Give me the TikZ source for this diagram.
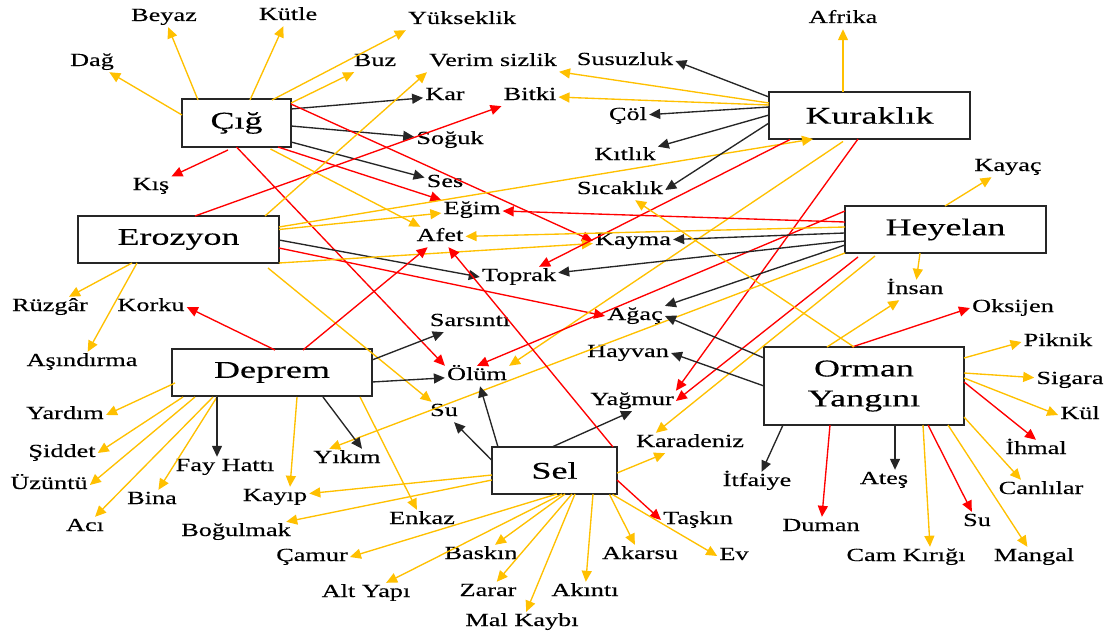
\documentclass[tikz,border=0pt]{standalone}
\usepackage{fontspec}
\setmainfont{Liberation Serif}[FakeStretch=1.42,FakeBold=0.3]
\newfontfamily\boxfont{Liberation Serif}[FakeStretch=1.5,FakeBold=0.3]
\usetikzlibrary{arrows.meta}
\definecolor{yel}{HTML}{FFC000}
\definecolor{rd}{HTML}{FF0000}
\definecolor{bk}{HTML}{262626}
\tikzset{
  box/.style={draw=bk, line width=1.5pt, fill=white, inner sep=0pt, align=center,
    font=\boxfont\fontsize{24}{30}\selectfont},
  lbl/.style={inner sep=2pt, text height=12pt, text depth=4pt, font=\fontsize{18.5}{20}\selectfont},
  conn/.style={line width=1.35pt, -{Triangle[length=11pt,width=10pt]}},
  ya/.style={conn, color=yel},
  ra/.style={conn, color=rd},
  ba/.style={conn, color=bk},
}
\begin{document}
\begin{tikzpicture}[x=1pt,y=-1pt]
\useasboundingbox (0,0) rectangle (1107,634);
% boxes
\node[box, minimum width=109pt, minimum height=48pt] (cig) at (236.5,123) {Çığ};
\node[box, minimum width=201pt, minimum height=47pt] (eroz) at (178.5,239.5) {Erozyon};
\node[box, minimum width=201pt, minimum height=47pt] (kur) at (869.5,115.5) {Kuraklık};
\node[box, minimum width=201pt, minimum height=47pt] (hey) at (945.5,229.5) {Heyelan};
\node[box, minimum width=200pt, minimum height=47pt] (dep) at (272,372.5) {Deprem};
\node[box, minimum width=200pt, minimum height=78pt] (orm) at (864,386) {Orman\\Yangını};
\node[box, minimum width=125pt, minimum height=47pt] (sel) at (554.5,470.5) {Sel};
% labels
\node[lbl] (beyaz) at (164,17) {Beyaz};
\node[lbl] (kutle) at (288,16) {Kütle};
\node[lbl] (yuksek) at (462,20) {Yükseklik};
\node[lbl] (dag) at (92,62) {Dağ};
\node[lbl] (buz) at (375,62) {Buz};
\node[lbl] (verim) at (493,62) {Verim sizlik};
\node[lbl] (susuz) at (625,61) {Susuzluk};
\node[lbl] (afrika) at (843,19) {Afrika};
\node[lbl] (kar) at (445,96) {Kar};
\node[lbl] (bitki) at (530,96) {Bitki};
\node[lbl] (col) at (628,116) {Çöl};
\node[lbl] (soguk) at (450,140) {Soğuk};
\node[lbl] (kitlik) at (625,156) {Kıtlık};
\node[lbl] (kis) at (151,186) {Kış};
\node[lbl] (ses) at (445,183) {Ses};
\node[lbl] (sicak) at (620,190) {Sıcaklık};
\node[lbl] (kayac) at (1008,167) {Kayaç};
\node[lbl] (egim) at (472,210) {Eğim};
\node[lbl] (afet) at (440,237) {Afet};
\node[lbl] (kayma) at (633,241) {Kayma};
\node[lbl] (toprak) at (519,277) {Toprak};
\node[lbl] (insan) at (915,290) {İnsan};
\node[lbl] (oksijen) at (1013,308) {Oksijen};
\node[lbl] (ruzgar) at (50,307) {Rüzgâr};
\node[lbl] (korku) at (151,307) {Korku};
\node[lbl] (sarsinti) at (470,322) {Sarsıntı};
\node[lbl] (agac) at (635,316) {Ağaç};
\node[lbl] (piknik) at (1058,342) {Piknik};
\node[lbl] (asindirma) at (82,362) {Aşındırma};
\node[lbl] (hayvan) at (628,353) {Hayvan};
\node[lbl] (olum) at (477,376) {Ölüm};
\node[lbl] (sigara) at (1070,380) {Sigara};
\node[lbl] (yardim) at (65,415) {Yardım};
\node[lbl] (yagmur) at (632,401) {Yağmur};
\node[lbl] (suA) at (444,412) {Su};
\node[lbl] (kul) at (1080,415) {Kül};
\node[lbl] (karadeniz) at (690,443) {Karadeniz};
\node[lbl] (ihmal) at (1036,450) {İhmal};
\node[lbl] (siddet) at (62,453) {Şiddet};
\node[lbl] (yikim) at (347,459) {Yıkım};
\node[lbl] (fay) at (225,467) {Fay Hattı};
\node[lbl] (uzuntu) at (49,485) {Üzüntü};
\node[lbl] (itfaiye) at (757,482) {İtfaiye};
\node[lbl] (ates) at (884,480) {Ateş};
\node[lbl] (canlilar) at (1041,490) {Canlılar};
\node[lbl] (bina) at (152,500) {Bina};
\node[lbl] (kayip) at (275,497) {Kayıp};
\node[lbl] (enkaz) at (422,520) {Enkaz};
\node[lbl] (bogulmak) at (236,532) {Boğulmak};
\node[lbl] (taskin) at (698,520) {Taşkın};
\node[lbl] (duman) at (821,527) {Duman};
\node[lbl] (suB) at (977,522) {Su};
\node[lbl] (aci) at (85,527) {Acı};
\node[lbl] (camur) at (312,557) {Çamur};
\node[lbl] (baskin) at (481,555) {Baskın};
\node[lbl] (akarsu) at (640,555) {Akarsu};
\node[lbl] (ev) at (734,556) {Ev};
\node[lbl] (cam) at (906,557) {Cam Kırığı};
\node[lbl] (mangal) at (1034,557) {Mangal};
\node[lbl] (altyapi) at (366,593) {Alt Yapı};
\node[lbl] (zarar) at (488,592) {Zarar};
\node[lbl] (akinti) at (585,592) {Akıntı};
\node[lbl] (malkaybi) at (522,622) {Mal Kaybı};
% Çığ
\draw[ya] ([shift={(-54.5,-8)}]cig.center) -- (dag);
\draw[ya] ([shift={(-38.5,-23)}]cig.center) -- (beyaz);
\draw[ya] ([shift={(13.5,-23)}]cig.center) -- (kutle);
\draw[ya] ([shift={(35.5,-23)}]cig.center) -- (yuksek.south west);
\draw[ya] ([shift={(54.5,-20)}]cig.center) -- (buz);
\draw[ba] ([shift={(54.5,-14)}]cig.center) -- (kar);
\draw[ba] ([shift={(54.5,3)}]cig.center) -- (soguk);
\draw[ba] ([shift={(54.5,19)}]cig.center) -- (ses);
\draw[ra] ([shift={(54.5,-19)}]cig.center) -- (kayma.west);
\draw[ra] ([shift={(41.5,24)}]cig.center) -- (egim);
\draw[ya] ([shift={(34,26)}]cig.center) -- (afet);
\draw[ra] ([shift={(0,24)}]cig.center) -- (olum.north west);
\draw[ra] ([shift={(-8.5,27)}]cig.center) -- (kis);
% Erozyon
\draw[ra] ([shift={(16.5,-23.5)}]eroz.center) -- (bitki);
\draw[ya] ([shift={(86.5,-23.5)}]eroz.center) -- (verim.south west);
\draw[ya] ([shift={(100.5,-12.5)}]eroz.center) -- ([shift={(-56.5,23.5)}]kur.center);
\draw[ya] ([shift={(100.5,-10)}]eroz.center) -- (egim);
\draw[ba] ([shift={(100.5,0.5)}]eroz.center) -- (toprak.west);
\draw[ra] ([shift={(100.5,8.5)}]eroz.center) -- (agac.west);
\draw[ya] ([shift={(100.5,23.5)}]eroz.center) -- (kayma);
\draw[ya] ([shift={(-46.5,23.5)}]eroz.center) -- (ruzgar);
\draw[ya] ([shift={(-41.5,23.5)}]eroz.center) -- (asindirma);
\draw[ya] ([shift={(89.5,28.5)}]eroz.center) -- (suA);
% Kuraklık
\draw[ya] ([shift={(-26.5,-23.5)}]kur.center) -- (afrika);
\draw[ba] ([shift={(-100.5,-18.5)}]kur.center) -- (susuz.east);
\draw[ya] ([shift={(-100.5,-12.5)}]kur.center) -- (verim);
\draw[ya] ([shift={(-100.5,-10.5)}]kur.center) -- (bitki);
\draw[ba] ([shift={(-100.5,-8.5)}]kur.center) -- (col);
\draw[ba] ([shift={(-100.5,-0.5)}]kur.center) -- (kitlik);
\draw[ba] ([shift={(-100.5,7.5)}]kur.center) -- (sicak.east);
\draw[ra] ([shift={(-79.5,24)}]kur.center) -- (toprak);
\draw[ya] ([shift={(-26.5,26)}]kur.center) -- (olum.north east);
\draw[ra] ([shift={(-11.5,23.5)}]kur.center) -- (yagmur.north east);
% Heyelan
\draw[ya] ([shift={(-0.5,-23.5)}]hey.center) -- (kayac);
\draw[ya] ([shift={(-25.5,23.5)}]hey.center) -- (insan);
\draw[ra] ([shift={(-100.5,-7.5)}]hey.center) -- (egim);
\draw[ra] ([shift={(-100.5,-18.5)}]hey.center) -- (olum.north);
\draw[ya] ([shift={(-100.5,-2.5)}]hey.center) -- (afet);
\draw[ba] ([shift={(-100.5,3.5)}]hey.center) -- (kayma);
\draw[ba] ([shift={(-100.5,11.5)}]hey.center) -- (toprak);
\draw[ba] ([shift={(-100.5,15.5)}]hey.center) -- (agac);
\draw[ya] ([shift={(-100.5,23.5)}]hey.center) -- ([xshift=18pt]yikim.north west);
\draw[ra] ([shift={(-87.5,27.5)}]hey.center) -- (yagmur.east);
\draw[ya] ([shift={(-70.5,26.5)}]hey.center) -- ([xshift=22pt]karadeniz.north west);
% Deprem
\draw[ra] ([shift={(3,-22.5)}]dep.center) -- (korku.east);
\draw[ra] ([shift={(31,-22.5)}]dep.center) -- (afet);
\draw[ba] ([shift={(100,-12.5)}]dep.center) -- (sarsinti);
\draw[ba] ([shift={(100,9.5)}]dep.center) -- (olum);
\draw[ya] ([shift={(-97,10.5)}]dep.center) -- (yardim.east);
\draw[ya] ([shift={(-89,24.5)}]dep.center) -- (siddet.east);
\draw[ya] ([shift={(-77,24.5)}]dep.center) -- (uzuntu.east);
\draw[ya] ([shift={(-59,24.5)}]dep.center) -- (aci);
\draw[ya] ([shift={(-55,24.5)}]dep.center) -- (bina);
\draw[ba] ([shift={(-55,24.5)}]dep.center) -- ([xshift=-8pt]fay.north);
\draw[ya] ([shift={(25,24.5)}]dep.center) -- ([xshift=15pt]kayip.north);
\draw[ba] ([shift={(51,24.5)}]dep.center) -- ([xshift=15pt]yikim.north);
\draw[ya] ([shift={(88,24.5)}]dep.center) -- (enkaz);
% Orman Yangını
\draw[ba] ([shift={(-100,-28)}]orm.center) -- (agac.east);
\draw[ba] ([shift={(-100,0)}]orm.center) -- (hayvan.east);
\draw[ya] ([shift={(-37,-39)}]orm.center) -- (insan);
\draw[ra] ([shift={(-12,-39)}]orm.center) -- (oksijen.west);
\draw[ya] ([shift={(-10,-39)}]orm.center) -- (sicak);
\draw[ya] ([shift={(100,-28)}]orm.center) -- (piknik.west);
\draw[ya] ([shift={(100,-13)}]orm.center) -- (sigara);
\draw[ya] ([shift={(100,-8)}]orm.center) -- (kul.west);
\draw[ra] ([shift={(100,-4)}]orm.center) -- (ihmal.north);
\draw[ya] ([shift={(100,31)}]orm.center) -- ([xshift=-20pt]canlilar.north);
\draw[ya] ([shift={(84,39)}]orm.center) -- (mangal);
\draw[ra] ([shift={(64,39)}]orm.center) -- (suB);
\draw[ya] ([shift={(59,39)}]orm.center) -- ([xshift=24pt]cam.north);
\draw[ba] ([shift={(31,39)}]orm.center) -- ([xshift=11pt]ates.north);
\draw[ra] ([shift={(-34,39)}]orm.center) -- (duman);
\draw[ba] ([shift={(-81,39)}]orm.center) -- (itfaiye);
% Sel
\draw[ba] ([shift={(-62.5,-10)}]sel.center) -- (suA);
\draw[ba] ([shift={(-56.5,-23.5)}]sel.center) -- (olum);
\draw[ba] ([shift={(-2.5,-23.5)}]sel.center) -- (yagmur.south);
\draw[ra] ([shift={(58.5,-23.5)}]sel.center) -- (afet);
\draw[ya] ([shift={(62.5,2.5)}]sel.center) -- (karadeniz);
\draw[ra] ([shift={(62.5,9.5)}]sel.center) -- (taskin.west);
\draw[ya] ([shift={(58,24)}]sel.center) -- (ev.west);
\draw[ya] ([shift={(55,24)}]sel.center) -- (akarsu);
\draw[ya] ([shift={(38.5,23.5)}]sel.center) -- (akinti);
\draw[ya] ([shift={(20.5,23.5)}]sel.center) -- (malkaybi);
\draw[ya] ([shift={(17.5,23.5)}]sel.center) -- (zarar);
\draw[ya] ([shift={(10.5,23.5)}]sel.center) -- (baskin);
\draw[ya] ([shift={(7.5,23.5)}]sel.center) -- (altyapi);
\draw[ya] ([shift={(2.5,23.5)}]sel.center) -- (camur.east);
\draw[ya] ([shift={(-62.5,9.5)}]sel.center) -- (bogulmak);
\draw[ya] ([shift={(-62.5,4.5)}]sel.center) -- (kayip);
\end{tikzpicture}
\end{document}
